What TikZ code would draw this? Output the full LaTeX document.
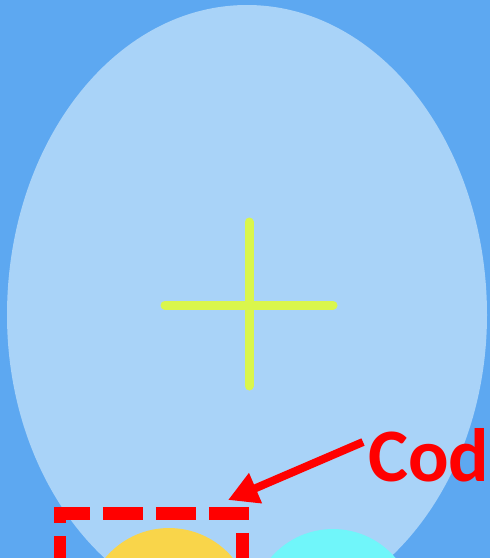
\documentclass[tikz,border=0pt]{standalone}
\usepackage{fontspec}
\usetikzlibrary{arrows.meta}
\newfontfamily\calfont{Carlito}
\definecolor{skyback}{RGB}{93,168,241}
\definecolor{eggblue}{RGB}{169,211,248}
\definecolor{limecross}{RGB}{218,246,76}
\definecolor{sunyellow}{RGB}{249,213,74}
\definecolor{aquaball}{RGB}{112,246,250}
\definecolor{alertred}{RGB}{255,0,0}

\begin{document}
\begin{tikzpicture}[x=0.02cm,y=-0.02cm,
    crossbar/.style={draw=limecross, line width=0.18cm, line cap=round},
    ball/.style={circle, inner sep=0pt, minimum size=#1*0.04cm},
    dashbox/.style={draw=alertred, line width=0.26cm,
      dash pattern=on 0.8cm off 0.26cm, dash phase=0.92cm},
    pointer/.style={draw=alertred, line width=0.16cm,
      -{Triangle[length=0.6cm,width=0.62cm]}},
    callout/.style={text=alertred, font=\calfont\bfseries\fontsize{43}{50}\selectfont,
      inner sep=0pt, anchor=base west}]
  \useasboundingbox (0,0) rectangle (490,558);
  \clip (0,0) rectangle (490,558);
  \fill[skyback] (0,0) rectangle (490,558);

  % egg shaped backdrop
  \fill[eggblue] (7,315) arc[start angle=180, end angle=360, x radius=240, y radius=310]
    arc[start angle=0, end angle=180, x radius=240, y radius=302] -- cycle;

  % plus sign
  \draw[crossbar] (249,222) -- (249,386);
  \draw[crossbar] (165,305) -- (333,305);

  % balls at the bottom
  \node[ball=83, fill=sunyellow] (yellowball) at (169,611) {};
  \node[ball=82, fill=aquaball] (cyanball) at (333,611) {};

  % dashed frame
  \draw[dashbox] (96,513) -- (242,513) -- (242,596) -- (60,596) -- (60,513) -- (96,513);

  \node[callout] (cod) at (368,481) {Cod};
  \coordinate (tail) at (363,442);
  \coordinate (tip) at (228,500);
  \draw[pointer] (tail) -- (tip);
\end{tikzpicture}
\end{document}
